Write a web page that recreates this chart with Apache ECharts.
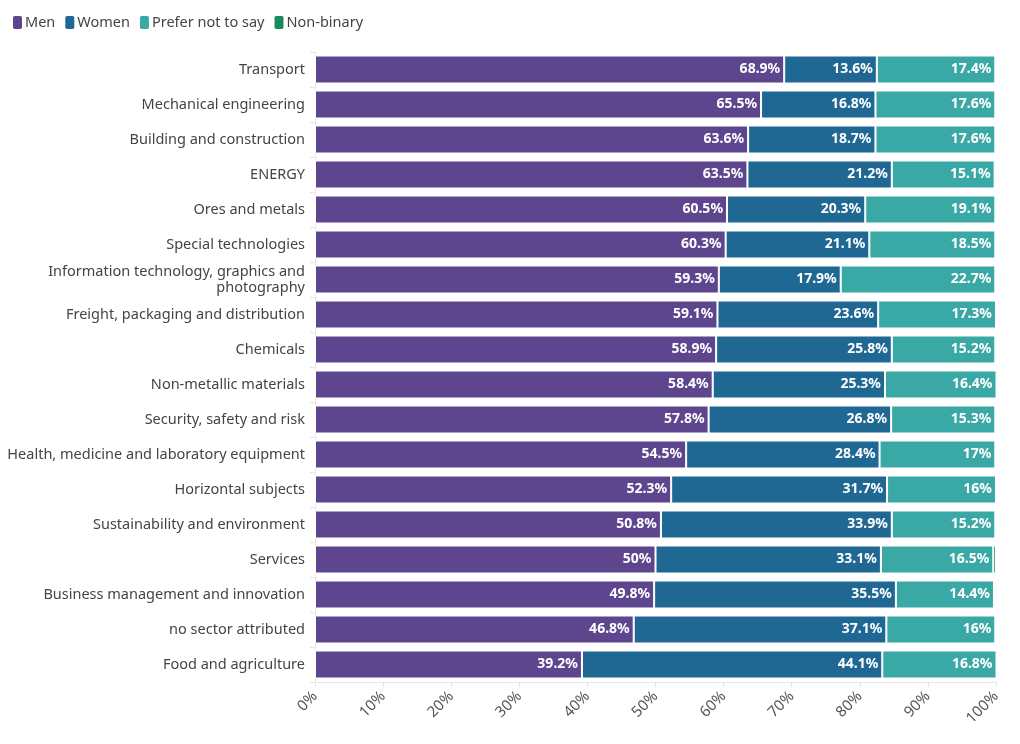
<!DOCTYPE html>
<html>
<head>
<meta charset="utf-8">
<script src="https://cdn.jsdelivr.net/npm/echarts@6/dist/echarts.min.js"></script>
<style>html,body{margin:0;padding:0;background:#fff}#c{width:1020px;height:744px}</style>
</head>
<body>
<div id="c"></div>
<script>
const categories = ["Transport","Mechanical engineering","Building and construction","ENERGY","Ores and metals","Special technologies","Information technology, graphics and photography","Freight, packaging and distribution","Chemicals","Non-metallic materials","Security, safety and risk","Health, medicine and laboratory equipment","Horizontal subjects","Sustainability and environment","Services","Business management and innovation","no sector attributed","Food and agriculture"];
const men = [68.9,65.5,63.6,63.5,60.5,60.3,59.3,59.1,58.9,58.4,57.8,54.5,52.3,50.8,50,49.8,46.8,39.2];
const women = [13.6,16.8,18.7,21.2,20.3,21.1,17.9,23.6,25.8,25.3,26.8,28.4,31.7,33.9,33.1,35.5,37.1,44.1];
const preferNot = [17.4,17.6,17.6,15.1,19.1,18.5,22.7,17.3,15.2,16.4,15.3,17,16,15.2,16.5,14.4,16,16.8];
const nonBinary = [0.1,0.1,0.1,0.2,0.1,0.1,0.1,0,0.1,0,0.1,0.1,0,0.1,0.4,0.3,0.1,0];
const xTicks = [0,10,20,30,40,50,60,70,80,90,100];

const FONT = '"Noto Sans", sans-serif';
const colors = ['#5e468f','#1f6893','#3aa9a5','#178a5e'];
function wrap(s){
  if (s.length <= 44) return s;
  const cut = s.lastIndexOf(' ', 37);
  return s.slice(0,cut) + '\n' + s.slice(cut+1);
}
function mk(name, data, color, showLabel){
  return {
    name, type:'bar', stack:'total', data, barCategoryGap:'20%',
    itemStyle:{color, borderColor:'#fff', borderWidth:1},
    label:{show:showLabel, position:'insideRight', distance:4, color:'#fff', fontWeight:'bold', fontSize:14, fontFamily:FONT,
      formatter:p=> p.value>3 ? p.value+'%' : ''},
    emphasis:{disabled:true}
  };
}
const chart = echarts.init(document.getElementById('c'), null, {renderer:'canvas'});
chart.setOption({
  animation:false,
  textStyle:{fontFamily:FONT},
  legend:{left:6, top:9, itemWidth:11, itemHeight:15, itemGap:8,
    icon:'roundRect',
    textStyle:{fontSize:14.5, color:'#444', fontFamily:FONT, padding:[0,0,0,-3]},
    data:['Men','Women','Prefer not to say','Non-binary']},
  grid:{left:315, right:24, top:52, bottom:62, containLabel:false},
  xAxis:{type:'value', min:0, max:100, interval:10,
    axisLine:{show:true, lineStyle:{color:'#e6e6e6'}},
    axisTick:{show:true, length:5, lineStyle:{color:'#e6e6e6'}},
    splitLine:{show:false},
    axisLabel:{rotate:45, color:'#555', fontSize:15, fontFamily:FONT, margin:12, formatter:v=>v+'%'}},
  yAxis:{type:'category', data:categories, inverse:true,
    axisLine:{show:true, lineStyle:{color:'#e6e6e6'}},
    axisTick:{show:true, length:5, lineStyle:{color:'#e6e6e6'}},
    axisLabel:{color:'#444', fontSize:14.5, fontFamily:FONT, margin:10, lineHeight:16, padding:[3,0,0,0], formatter:wrap}},
  series:[
    mk('Men', men, colors[0], true),
    mk('Women', women, colors[1], true),
    mk('Prefer not to say', preferNot, colors[2], true),
    mk('Non-binary', nonBinary, colors[3], false)
  ]
});
</script>
</body>
</html>
